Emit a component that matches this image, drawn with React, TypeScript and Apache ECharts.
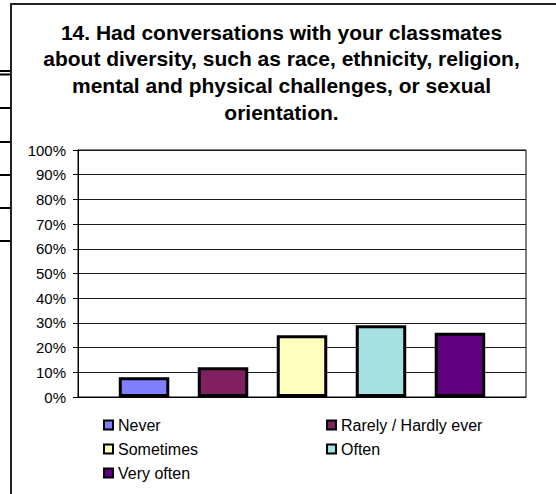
import React, { useEffect, useRef } from "react";
import * as echarts from "echarts";

const titleLines = [
  "14. Had conversations with your classmates",
  "about diversity, such as race, ethnicity, religion,",
  "mental and physical challenges, or sexual",
  "orientation.",
];
const categories = ["Q14"];
const seriesNames = ["Never", "Rarely / Hardly ever", "Sometimes", "Often", "Very often"];
const seriesValues = [8, 12, 25, 29, 26];
const seriesColors = ["#8080FF", "#802060", "#FFFFC0", "#A6E0E0", "#600080"];
const legendLeftColumn = ["Never", "Sometimes", "Very often"];
const legendRightColumn = ["Rarely / Hardly ever", "Often"];
const strayLineYs = [71, 74.5, 108, 142, 175, 208, 241];

const FONT = "'Liberation Sans', Arial, Helvetica, sans-serif";

export default function App() {
  const ref = useRef<HTMLDivElement>(null);
  useEffect(() => {
    if (!ref.current) return;
    const chart = echarts.init(ref.current, null, { renderer: "svg" });
    const graphics: any[] = [
      {
        type: "line",
        shape: { x1: 11, y1: 4, x2: 556, y2: 4 },
        style: { stroke: "#222", lineWidth: 2 },
        silent: true,
      },
      {
        type: "line",
        shape: { x1: 11, y1: 3, x2: 11, y2: 494 },
        style: { stroke: "#222", lineWidth: 2 },
        silent: true,
      },
      ...strayLineYs.map((y) => ({
        type: "line",
        shape: { x1: 0, y1: y, x2: 10, y2: y },
        style: { stroke: "#000", lineWidth: 2 },
        silent: true,
      })),
      {
        type: "text",
        x: 281.5,
        y: 19,
        silent: true,
        style: {
          text: titleLines.join("\n"),
          fontFamily: FONT,
          fontSize: 21,
          fontWeight: "bold",
          fill: "#000",
          lineHeight: 26.6,
          align: "center",
          verticalAlign: "top",
        },
      },
    ];
    const legendCommon = {
      orient: "vertical" as const,
      top: 416.5,
      padding: 0,
      itemWidth: 9,
      itemHeight: 9,
      itemGap: 7,
      icon: "rect",
      selectedMode: false,
      itemStyle: { borderColor: "#000", borderWidth: 2 },
      textStyle: { fontFamily: FONT, fontSize: 16, color: "#000", lineHeight: 17 },
    };
    chart.setOption({
      animation: false,
      backgroundColor: "#fff",
      legend: [
        { ...legendCommon, left: 103, data: legendLeftColumn },
        { ...legendCommon, left: 326, data: legendRightColumn },
      ],
      grid: {
        left: 78,
        top: 150,
        width: 448,
        height: 247,
        containLabel: false,
        show: true,
        borderColor: "#000",
        borderWidth: 1,
        backgroundColor: "transparent",
      },
      xAxis: {
        type: "category",
        data: categories,
        axisLabel: { show: false },
        axisTick: { show: false },
        axisLine: { show: true, lineStyle: { color: "#000", width: 1 } },
      },
      yAxis: {
        type: "value",
        min: 0,
        max: 100,
        interval: 10,
        axisLabel: {
          formatter: "{value}%",
          fontFamily: FONT,
          fontSize: 15,
          color: "#000",
          margin: 12,
        },
        axisTick: { show: true, length: 5, lineStyle: { color: "#000" } },
        axisLine: { show: true, lineStyle: { color: "#000", width: 1 } },
        splitLine: { show: true, lineStyle: { color: "#1a1a1a", width: 1 } },
      },
      series: seriesNames.map((name, i) => ({
        name,
        type: "bar",
        data: [seriesValues[i]],
        barWidth: 50.5,
        barGap: "56.4%",
        itemStyle: {
          color: seriesColors[i],
          borderColor: "#000",
          borderWidth: 3,
        },
        emphasis: { disabled: true },
      })),
      graphic: graphics,
    });
    return () => chart.dispose();
  }, []);
  return (
    <div
      ref={ref}
      style={{ position: "fixed", left: 0, top: 0, width: 556, height: 494, background: "#fff" }}
    />
  );
}
